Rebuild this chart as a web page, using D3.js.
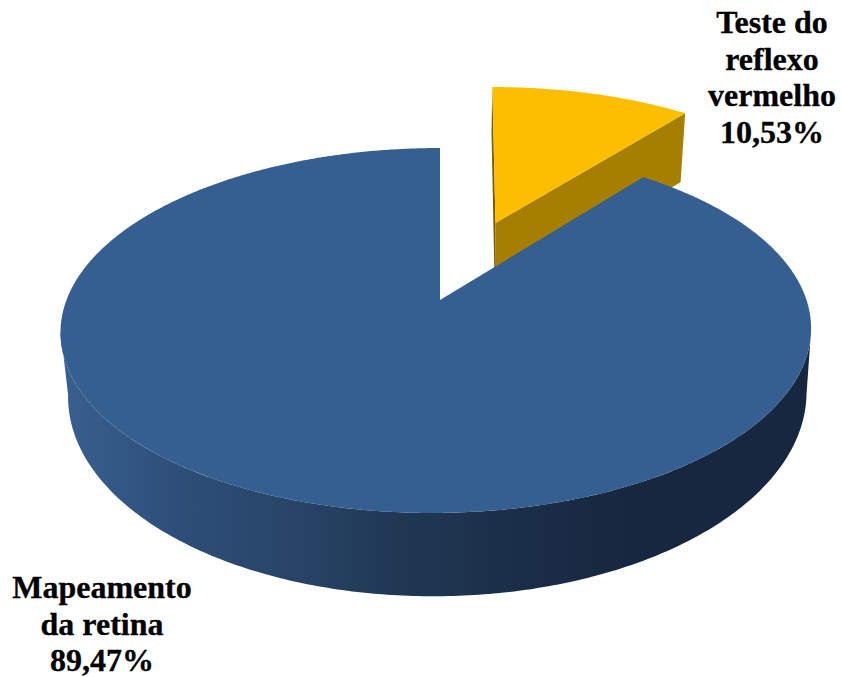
<!DOCTYPE html>
<html>
<head>
<meta charset="utf-8">
<script src="https://cdn.jsdelivr.net/npm/d3@7/dist/d3.min.js"></script>
<style>html,body{margin:0;padding:0;background:#fff}svg{display:block}</style>
</head>
<body>
<script>
const categories = ["Teste do reflexo vermelho", "Mapeamento da retina"];
const values = [10.53, 89.47];
const valueLabels = ["10,53%", "89,47%"];
const labelLines = [["Teste do", "reflexo", "vermelho"], ["Mapeamento", "da retina"]];
const topColors = ["#FBBE00", "#365F91"];
const wallColors = ["#A67F00", "#16273F"];
const sliverColor = "#7A5C00";
const wallShades = ["#395F8E", "#2D4E78", "#284468", "#203754", "#1B2E48", "#16273F", "#16273F"];

const W = 841, H = 677;
const svg = d3.select("body").append("svg").attr("width", W).attr("height", H)
  .attr("viewBox", [0, 0, W, H]);
const defs = svg.append("defs");

const arcs = d3.pie().sort(null).value(d => d)(values);
const [yellowArc, blueArc] = arcs;

// Perspective rings (a circle projected on the screen)
const mainTop = {cx: 436.5, cy: 300, R: 370, Ry: 177.4, k: .167, sk: -4.1};
const mainBottom = {cx: 438, cy: 361, R: 364, Ry: 196, k: .167, sk: -4.1};
const sliceTop = {cx: 495.5, cy: 223, R: 342.5, Ry: 152.3, k: .12, sk: 3.6};
const apexShift = 3.5, cutNudge = .01;

function pt(ring, a, r = 1) {
  const u = r * Math.sin(a), v = -r * Math.cos(a), d = 1 - ring.k * v;
  return [ring.cx + (ring.R * u + ring.sk * v) / d, ring.cy + ring.Ry * v / d];
}
const line = d3.line();
const closed = pts => line(pts) + "Z";
const sweep = (a0, a1, n = 240) => d3.range(n + 1).map(i => a0 + (a1 - a0) * i / n);

// Side wall gradient of the large slice
const shade = d3.scaleLinear()
  .domain(d3.range(wallShades.length).map(i => i / (wallShades.length - 1)))
  .range(wallShades);
const grad = defs.append("linearGradient").attr("id", "wall")
  .attr("gradientUnits", "userSpaceOnUse")
  .attr("x1", 65).attr("x2", 740).attr("y1", 0).attr("y2", 0);
d3.range(0, 1.001, 1 / 24).forEach(t => grad.append("stop").attr("offset", t).attr("stop-color", shade(t)));

// Small slice: cut faces, then its top
const a0 = yellowArc.startAngle, a1 = yellowArc.endAngle;
const shrink = p => [sliceTop.cx + (p[0] - sliceTop.cx) * .98, p[1]];
const down = (p, dy) => { const q = shrink(p); return [q[0] - .8, q[1] + dy]; };
const apexT = [sliceTop.cx, sliceTop.cy], startT = pt(sliceTop, a0), endT = pt(sliceTop, a1);
svg.append("path").attr("fill", sliverColor)
  .attr("d", closed([startT, apexT, down(apexT, 66), down(startT, 46)]));
svg.append("path").attr("fill", wallColors[0])
  .attr("d", closed([apexT, endT, down(endT, 69), down(apexT, 66)]));
svg.append("path").attr("fill", topColors[0])
  .attr("d", closed([apexT, ...sweep(a0, a1, 60).map(a => pt(sliceTop, a))]));

// Large slice: outer wall, then its top
const tangent = Math.acos(-mainTop.k);
const wallTop = sweep(tangent, 2 * Math.PI - tangent).map(a => pt(mainTop, a));
const wallBottom = sweep(tangent, 2 * Math.PI - tangent).map(a => pt(mainBottom, a)).reverse();
svg.append("path").attr("fill", "url(#wall)").attr("d", closed([...wallTop, ...wallBottom]));
svg.append("path").attr("fill", topColors[1])
  .attr("d", closed([[mainTop.cx + apexShift, mainTop.cy],
    ...sweep(blueArc.startAngle + cutNudge, blueArc.endAngle, 720).map(a => pt(mainTop, a))]));

// Labels
const labelPos = [{x: 772, y: 33}, {x: 102, y: 598}];
const leading = 36.6;
labelLines.forEach((lines, i) => {
  svg.append("text")
    .attr("font-family", "'Liberation Serif', serif")
    .attr("font-weight", "bold").attr("font-size", 32).attr("fill", "#000")
    .attr("stroke", "#000").attr("stroke-width", .3)
    .attr("text-anchor", "middle")
    .selectAll("tspan").data([...lines, valueLabels[i]]).join("tspan")
    .attr("x", labelPos[i].x)
    .attr("y", (d, j) => labelPos[i].y + j * leading)
    .text(d => d);
});
</script>
</body>
</html>
